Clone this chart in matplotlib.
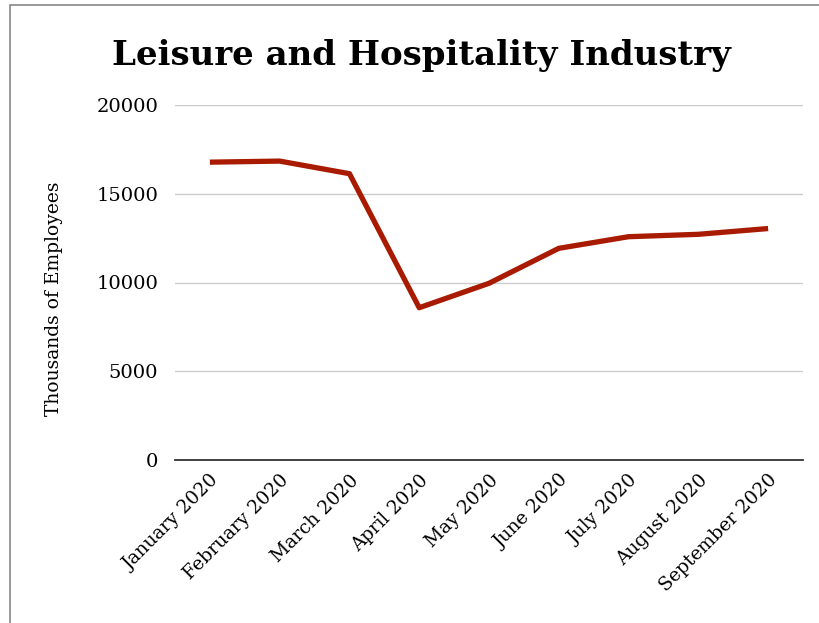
import matplotlib.pyplot as plt
from matplotlib.patches import Rectangle

months = ['January 2020', 'February 2020', 'March 2020', 'April 2020', 'May 2020',
          'June 2020', 'July 2020', 'August 2020', 'September 2020']
employees = [16780, 16840, 16130, 8580, 9955, 11925, 12580, 12715, 13040]
yticks = [0, 5000, 10000, 15000, 20000]

plt.rcParams['font.family'] = ['DejaVu Serif']

fig = plt.figure(figsize=(8.19, 6.23), dpi=100)
ax = fig.add_axes([175/819, 1-460/623, 628/819, 355/623])

ax.plot(range(len(months)), employees, color='#a81b00', lw=3.8, solid_capstyle='butt')
ax.set_xlim(-0.5, len(months)-0.5)
ax.set_ylim(0, 20000)
ax.set_yticks(yticks)
ax.set_yticklabels([str(v) for v in yticks], fontsize=14)
ax.set_xticks(range(len(months)))
ax.set_xticklabels(months, rotation=45, ha='right', rotation_mode='anchor', fontsize=13.5)
ax.tick_params(axis='y', length=0, pad=12)
ax.tick_params(axis='x', length=0, pad=8)
ax.grid(axis='y', color='#cccccc', lw=1)
for s in ['top', 'right', 'left']:
    ax.spines[s].set_visible(False)
ax.spines['bottom'].set_color('#333333')
ax.spines['bottom'].set_linewidth(1.3)
ax.spines['bottom'].set_zorder(3)
ax.set_axisbelow(True)
ax.set_ylabel('Thousands of Employees', fontsize=13.5)
ax.yaxis.set_label_coords(-(175-63)/628, (460-299)/355)

fig.text(421/819, 1-55/623, 'Leisure and Hospitality Industry', ha='center', va='center',
         fontsize=24.5, fontweight='bold')

fig.patches.append(Rectangle((10/819, -0.1), 1.2, 1-5/623+0.1, transform=fig.transFigure,
                             fill=False, edgecolor='#888888', lw=1.2))

fig.savefig('out.png', dpi=100)
